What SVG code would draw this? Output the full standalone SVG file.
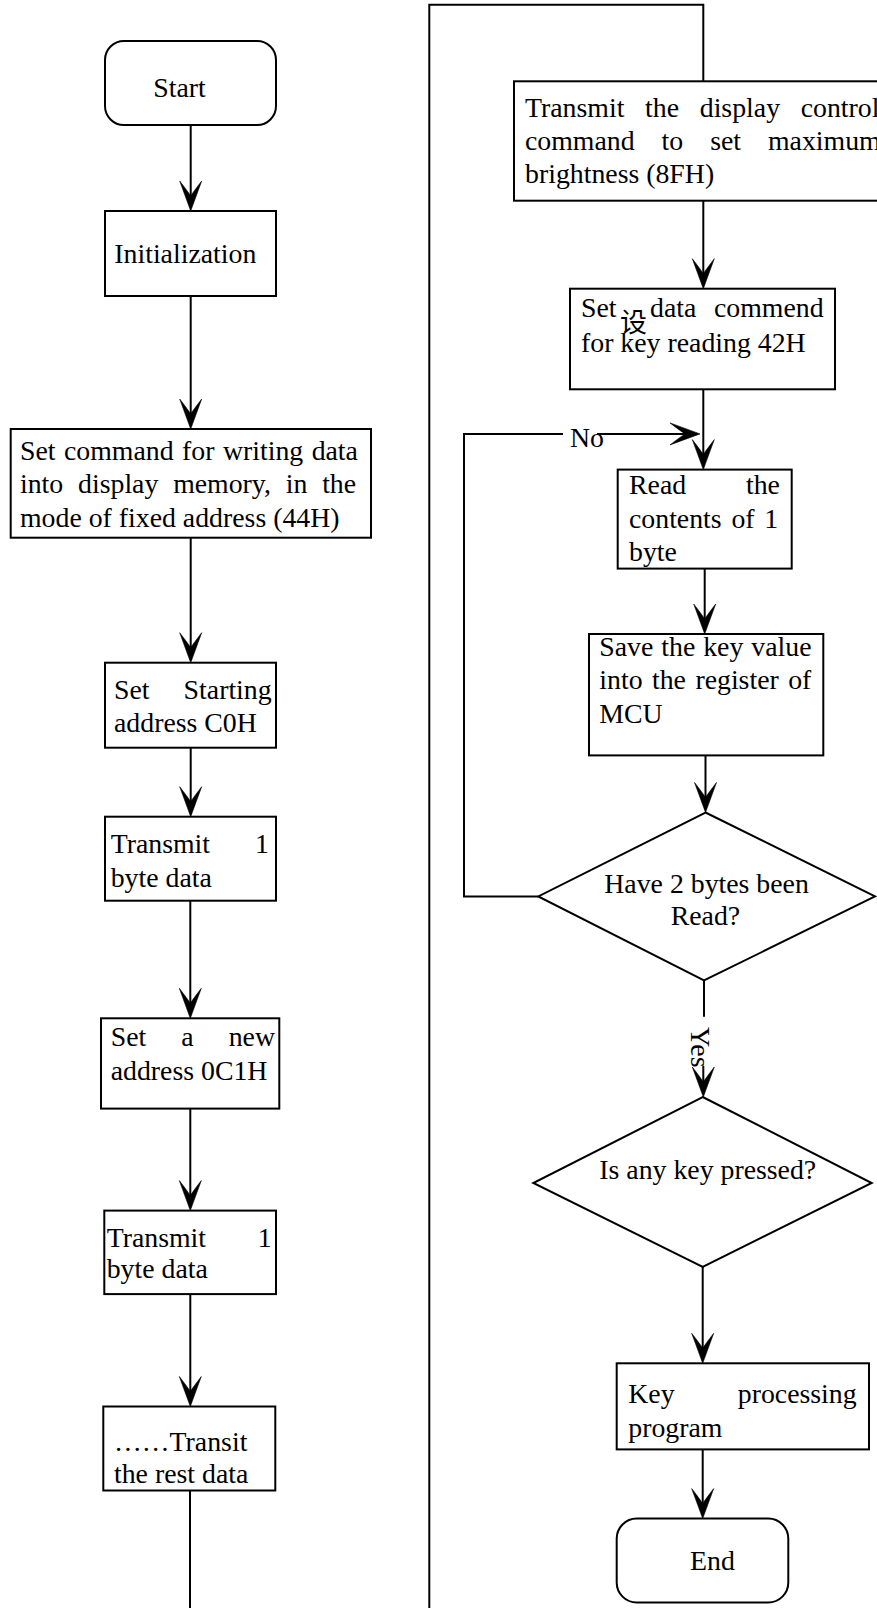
<svg xmlns="http://www.w3.org/2000/svg" width="877" height="1608" viewBox="0 0 877 1608">
<style>
.box{fill:#fff;stroke:#000;stroke-width:2}
.ln{fill:none;stroke:#000;stroke-width:2}
.t{font-family:"Liberation Serif","Times New Roman",serif;font-size:27.8px;fill:#000}
.cjk{font-family:"Noto Sans CJK SC",sans-serif;font-size:27px;fill:#000}
</style>
<defs>
<marker id="arr" markerUnits="userSpaceOnUse" orient="auto" refX="0" refY="0" markerWidth="40" markerHeight="30" viewBox="-32 -15 40 30">
<path d="M3,0 L-27,-11 Q-16,-2.5 -12,0 Q-16,2.5 -27,11 Z" fill="#000" stroke="#000" stroke-width="0.6" stroke-linejoin="round"/>
</marker>
</defs>
<rect width="877" height="1608" fill="#fff"/>

<g id="connectors">
<path class="ln" d="M190.7,125 V208" marker-end="url(#arr)"/>
<path class="ln" d="M190.7,296 V426" marker-end="url(#arr)"/>
<path class="ln" d="M190.7,537.7 V659.7" marker-end="url(#arr)"/>
<path class="ln" d="M190.7,747.7 V813.7" marker-end="url(#arr)"/>
<path class="ln" d="M190.3,900.6 V1015.3" marker-end="url(#arr)"/>
<path class="ln" d="M190.3,1108.6 V1207.6" marker-end="url(#arr)"/>
<path class="ln" d="M190.3,1294.1 V1403.5" marker-end="url(#arr)"/>
<path class="ln" d="M190,1490.5 V1608"/>
<path class="ln" d="M429.3,1608 V4.7 H703.3 V81.3"/>
<path class="ln" d="M703.3,200.7 V285.7" marker-end="url(#arr)"/>
<path class="ln" d="M703.3,389.3 V466.6" marker-end="url(#arr)"/>
<path class="ln" d="M538.3,896.4 H464 V433.9 H563"/>
<path class="ln" d="M597,433.9 H697" marker-end="url(#arr)"/>
<path class="ln" d="M704.7,568.6 V631" marker-end="url(#arr)"/>
<path class="ln" d="M705.5,755.4 V809.5" marker-end="url(#arr)"/>
<path class="ln" d="M704,980.5 V1016.7"/>
<path class="ln" d="M703.3,1066 V1094" marker-end="url(#arr)"/>
<path class="ln" d="M702.7,1266.8 V1360.3" marker-end="url(#arr)"/>
<path class="ln" d="M702.7,1449.4 V1515.6" marker-end="url(#arr)"/>
<text class="t" x="570" y="446.5">No</text>
<text class="t" transform="translate(691,1027) rotate(90)">Yes</text>
</g>

<g id="start">
<rect class="box" x="105" y="41" width="171" height="84" rx="19"/>
<text class="t" x="153.3" y="97.3">Start</text>
</g>

<g id="init">
<rect class="box" x="105" y="211" width="171" height="85"/>
<text class="t" x="114.3" y="263.3">Initialization</text>
</g>

<g id="setcmd">
<rect class="box" x="10.7" y="429" width="360.3" height="108.7"/>
<text class="t" x="20" y="460" style="word-spacing:1.5px">Set command for writing data</text>
<text class="t" x="20" y="493.3" style="word-spacing:7.85px">into display memory, in the</text>
<text class="t" x="20" y="526.7">mode of fixed address (44H)</text>
</g>

<g id="setstart">
<rect class="box" x="105" y="662.7" width="171" height="85"/>
<text class="t" x="114" y="699.3" style="word-spacing:27.15px">Set Starting</text>
<text class="t" x="114" y="731.7">address C0H</text>
</g>

<g id="tx1">
<rect class="box" x="105" y="816.7" width="171" height="84"/>
<text class="t" x="110.7" y="853.3" style="word-spacing:38px">Transmit 1</text>
<text class="t" x="110.7" y="886.7">byte data</text>
</g>

<g id="setnew">
<rect class="box" x="101" y="1018.3" width="178.3" height="90.3"/>
<text class="t" x="110.7" y="1045.8" style="word-spacing:28.1px">Set a new</text>
<text class="t" x="110.7" y="1079.7">address 0C1H</text>
</g>

<g id="tx2">
<rect class="box" x="104.3" y="1210.6" width="171.7" height="83.5"/>
<text class="t" x="106.7" y="1246.7" style="word-spacing:44.7px">Transmit 1</text>
<text class="t" x="106.7" y="1278.3">byte data</text>
</g>

<g id="transit">
<rect class="box" x="103.3" y="1406.5" width="172" height="84"/>
<text class="t" x="114" y="1450.8">……Transit</text>
<text class="t" x="114" y="1483.3">the rest data</text>
</g>

<g id="display">
<rect class="box" x="514" y="81.3" width="380" height="119.4"/>
<text class="t" x="525" y="116.7" style="word-spacing:13.75px">Transmit the display control</text>
<text class="t" x="525" y="150" style="word-spacing:20px">command to set maximum</text>
<text class="t" x="525" y="183.3">brightness (8FH)</text>
</g>

<g id="setdata">
<rect class="box" x="570" y="288.7" width="265" height="100.6"/>
<text class="t" x="581" y="316.7">Set</text>
<text class="cjk" x="620" y="332">设</text>
<text class="t" x="650" y="316.7">data</text>
<text class="t" x="714" y="316.7">commend</text>
<text class="t" x="581" y="351.7">for key reading 42H</text>
</g>

<g id="read">
<rect class="box" x="617.7" y="469.6" width="174" height="99"/>
<text class="t" x="629" y="493.6" style="word-spacing:52.9px">Read the</text>
<text class="t" x="629" y="527.5" style="word-spacing:2.8px">contents of 1</text>
<text class="t" x="629" y="560.7">byte</text>
</g>

<g id="save">
<rect class="box" x="589" y="634" width="234.3" height="121.4"/>
<text class="t" x="599.3" y="656.4" style="word-spacing:1px">Save the key value</text>
<text class="t" x="599.3" y="688.6" style="word-spacing:2.5px">into the register of</text>
<text class="t" x="599.3" y="723.2">MCU</text>
</g>

<g id="twobytes">
<polygon class="box" points="705.5,812.5 875,896.4 704,980.5 538.3,896.4"/>
<text class="t" x="604.3" y="892.9">Have 2 bytes been</text>
<text class="t" x="670.7" y="925">Read?</text>
</g>

<g id="keypressed">
<polygon class="box" points="702.7,1097 871.7,1183 702.7,1266.8 533.3,1183"/>
<text class="t" x="599.3" y="1178.7">Is any key pressed?</text>
</g>

<g id="keyproc">
<rect class="box" x="616.7" y="1363.3" width="252.3" height="86.1"/>
<text class="t" x="628.3" y="1403.2" style="word-spacing:56.2px">Key processing</text>
<text class="t" x="628.3" y="1436.8">program</text>
</g>

<g id="end">
<rect class="box" x="616.7" y="1518.6" width="171.6" height="83.9" rx="20"/>
<text class="t" x="690" y="1570">End</text>
</g>
</svg>
